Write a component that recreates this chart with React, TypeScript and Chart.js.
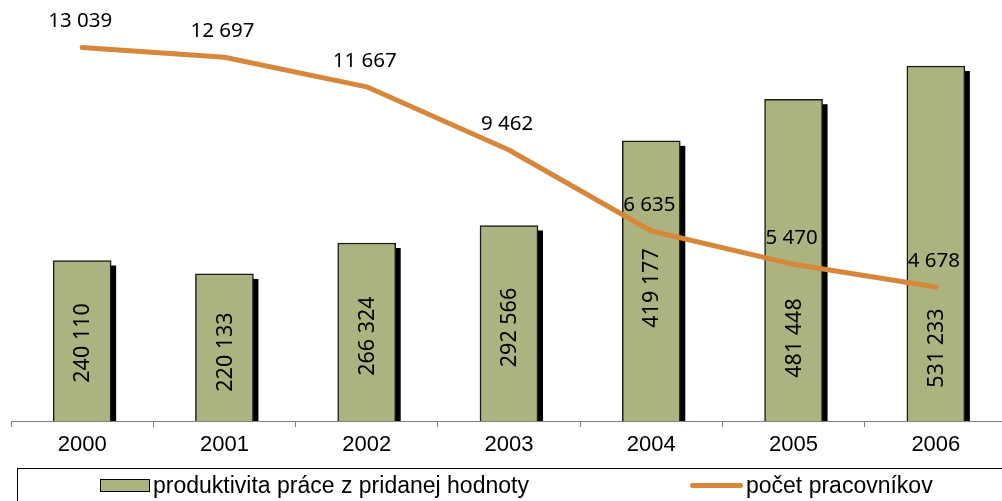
import React, { useEffect, useRef } from 'react';
import { Chart, registerables } from 'chart.js';

Chart.register(...registerables);

// ---- data ----
const categories = ['2000', '2001', '2002', '2003', '2004', '2005', '2006'];
const productivity = [240110, 220133, 266324, 292566, 419177, 481448, 531233];
const workers = [13039, 12697, 11667, 9462, 6635, 5470, 4678];
// where each rotated bar label sits (in bar-axis units)
const barLabelAt = [116700, 103200, 127000, 139900, 199000, 124200, 109200];
const productivityLabel = 'produktivita práce z pridanej hodnoty';
const workersLabel = 'počet pracovníkov';

const BAR_COLOR = '#acb380';
const LINE_COLOR = '#d6873a';

const fmt = (v: number) => String(v).replace(/\B(?=(\d{3})+(?!\d))/g, ' ');

const decorPlugin = {
  id: 'decor',
  beforeDatasetDraw(chart: any, args: any) {
    const ds = chart.data.datasets[args.index];
    if (ds.type !== 'bar') return;
    const { ctx, chartArea } = chart;
    ctx.save();
    ctx.beginPath();
    ctx.rect(chartArea.left, 0, chartArea.right - chartArea.left + 20, chartArea.bottom);
    ctx.clip();
    ctx.fillStyle = '#000';
    args.meta.data.forEach((el: any) => {
      const p = el.getProps(['x', 'y', 'base', 'width'], true);
      ctx.fillRect(p.x - p.width / 2 + 5, p.y + 5, p.width, p.base - p.y);
    });
    ctx.restore();
  },
  afterDatasetDraw(chart: any, args: any) {
    const ds = chart.data.datasets[args.index];
    if (ds.type !== 'bar') return;
    const { ctx } = chart;
    const yScale = chart.scales.y;
    ctx.save();
    ctx.fillStyle = '#000';
    ctx.font = '21.5px "Noto Sans"';
    ctx.textAlign = 'center';
    ctx.textBaseline = 'middle';
    args.meta.data.forEach((el: any, i: number) => {
      const p = el.getProps(['x'], true);
      const y = yScale.getPixelForValue(barLabelAt[i]);
      ctx.save();
      ctx.translate(p.x + 1, y);
      ctx.rotate(-Math.PI / 2);
      ctx.fillText(fmt(productivity[i]), 0, 0);
      ctx.restore();
    });
    ctx.restore();
  },
  afterDatasetsDraw(chart: any) {
    const { ctx } = chart;
    const idx = chart.data.datasets.findIndex((d: any) => d.type === 'line');
    const meta = chart.getDatasetMeta(idx);
    ctx.save();
    ctx.fillStyle = '#000';
    ctx.font = '20.5px "Noto Sans"';
    ctx.textAlign = 'center';
    ctx.textBaseline = 'middle';
    meta.data.forEach((el: any, i: number) => {
      const p = el.getProps(['x', 'y'], true);
      ctx.fillText(fmt(workers[i]), p.x - 2, p.y - 26);
    });
    ctx.restore();
  },
};

export default function App() {
  const ref = useRef<HTMLCanvasElement>(null);

  useEffect(() => {
    const chart = new Chart(ref.current as HTMLCanvasElement, {
      type: 'bar',
      data: {
        labels: categories,
        datasets: [
          {
            type: 'bar',
            label: productivityLabel,
            data: productivity,
            backgroundColor: BAR_COLOR,
            borderColor: '#1a1a1a',
            borderWidth: 1.5,
            barThickness: 58,
            yAxisID: 'y',
            order: 2,
          } as any,
          {
            type: 'line',
            label: workersLabel,
            data: workers,
            borderColor: LINE_COLOR,
            backgroundColor: LINE_COLOR,
            borderWidth: 5,
            borderCapStyle: 'round',
            borderJoinStyle: 'round',
            pointRadius: 0,
            tension: 0,
            yAxisID: 'y2',
            order: 1,
          } as any,
        ],
      },
      options: {
        animation: false,
        responsive: true,
        maintainAspectRatio: false,
        layout: { padding: { left: 11, right: 3, top: 20, bottom: 0 } },
        plugins: {
          legend: { display: false },
          tooltip: { enabled: false },
        },
        scales: {
          x: {
            offset: true,
            grid: {
              display: true,
              offset: true,
              drawOnChartArea: false,
              drawTicks: true,
              tickLength: 6,
              color: '#808080',
              lineWidth: 1,
            },
            border: { display: true, color: '#808080', width: 1 },
            ticks: {
              color: '#000',
              font: { family: '"Liberation Sans", Arial, sans-serif', size: 22 },
              padding: 5,
              maxRotation: 0,
              autoSkip: false,
            },
            afterFit: (s: any) => {
              s.height = 80;
            },
          },
          y: { display: false, min: 0, max: 600000 },
          y2: { display: false, position: 'right', min: 0, max: 14000 },
        },
      } as any,
      plugins: [decorPlugin],
    });
    return () => chart.destroy();
  }, []);

  const legendFont = '"Liberation Sans", Arial, sans-serif';

  return (
    <div
      style={{
        position: 'fixed',
        left: 0,
        top: 0,
        width: 1002,
        height: 501,
        overflow: 'hidden',
        background: '#fff',
      }}
    >
      <div style={{ position: 'absolute', left: 0, top: 0, width: 1010, height: 501 }}>
        <canvas ref={ref} />
      </div>
      <div
        style={{
          position: 'absolute',
          left: 17,
          top: 468,
          width: 1010,
          height: 60,
          border: '1px solid #000',
          boxSizing: 'border-box',
        }}
      />
      <div
        style={{
          position: 'absolute',
          left: 100,
          top: 479,
          width: 50,
          height: 13,
          background: BAR_COLOR,
          border: '1px solid #000',
          boxSizing: 'border-box',
        }}
      />
      <span
        style={{
          position: 'absolute',
          left: 153,
          top: 472,
          fontFamily: legendFont,
          fontSize: 23,
          lineHeight: 'normal',
          whiteSpace: 'nowrap',
          color: '#000',
        }}
      >
        {productivityLabel}
      </span>
      <div
        style={{
          position: 'absolute',
          left: 690,
          top: 483,
          width: 53,
          height: 5,
          borderRadius: 2.5,
          background: LINE_COLOR,
        }}
      />
      <span
        style={{
          position: 'absolute',
          left: 746,
          top: 472,
          fontFamily: legendFont,
          fontSize: 23,
          lineHeight: 'normal',
          whiteSpace: 'nowrap',
          color: '#000',
        }}
      >
        {workersLabel}
      </span>
    </div>
  );
}
